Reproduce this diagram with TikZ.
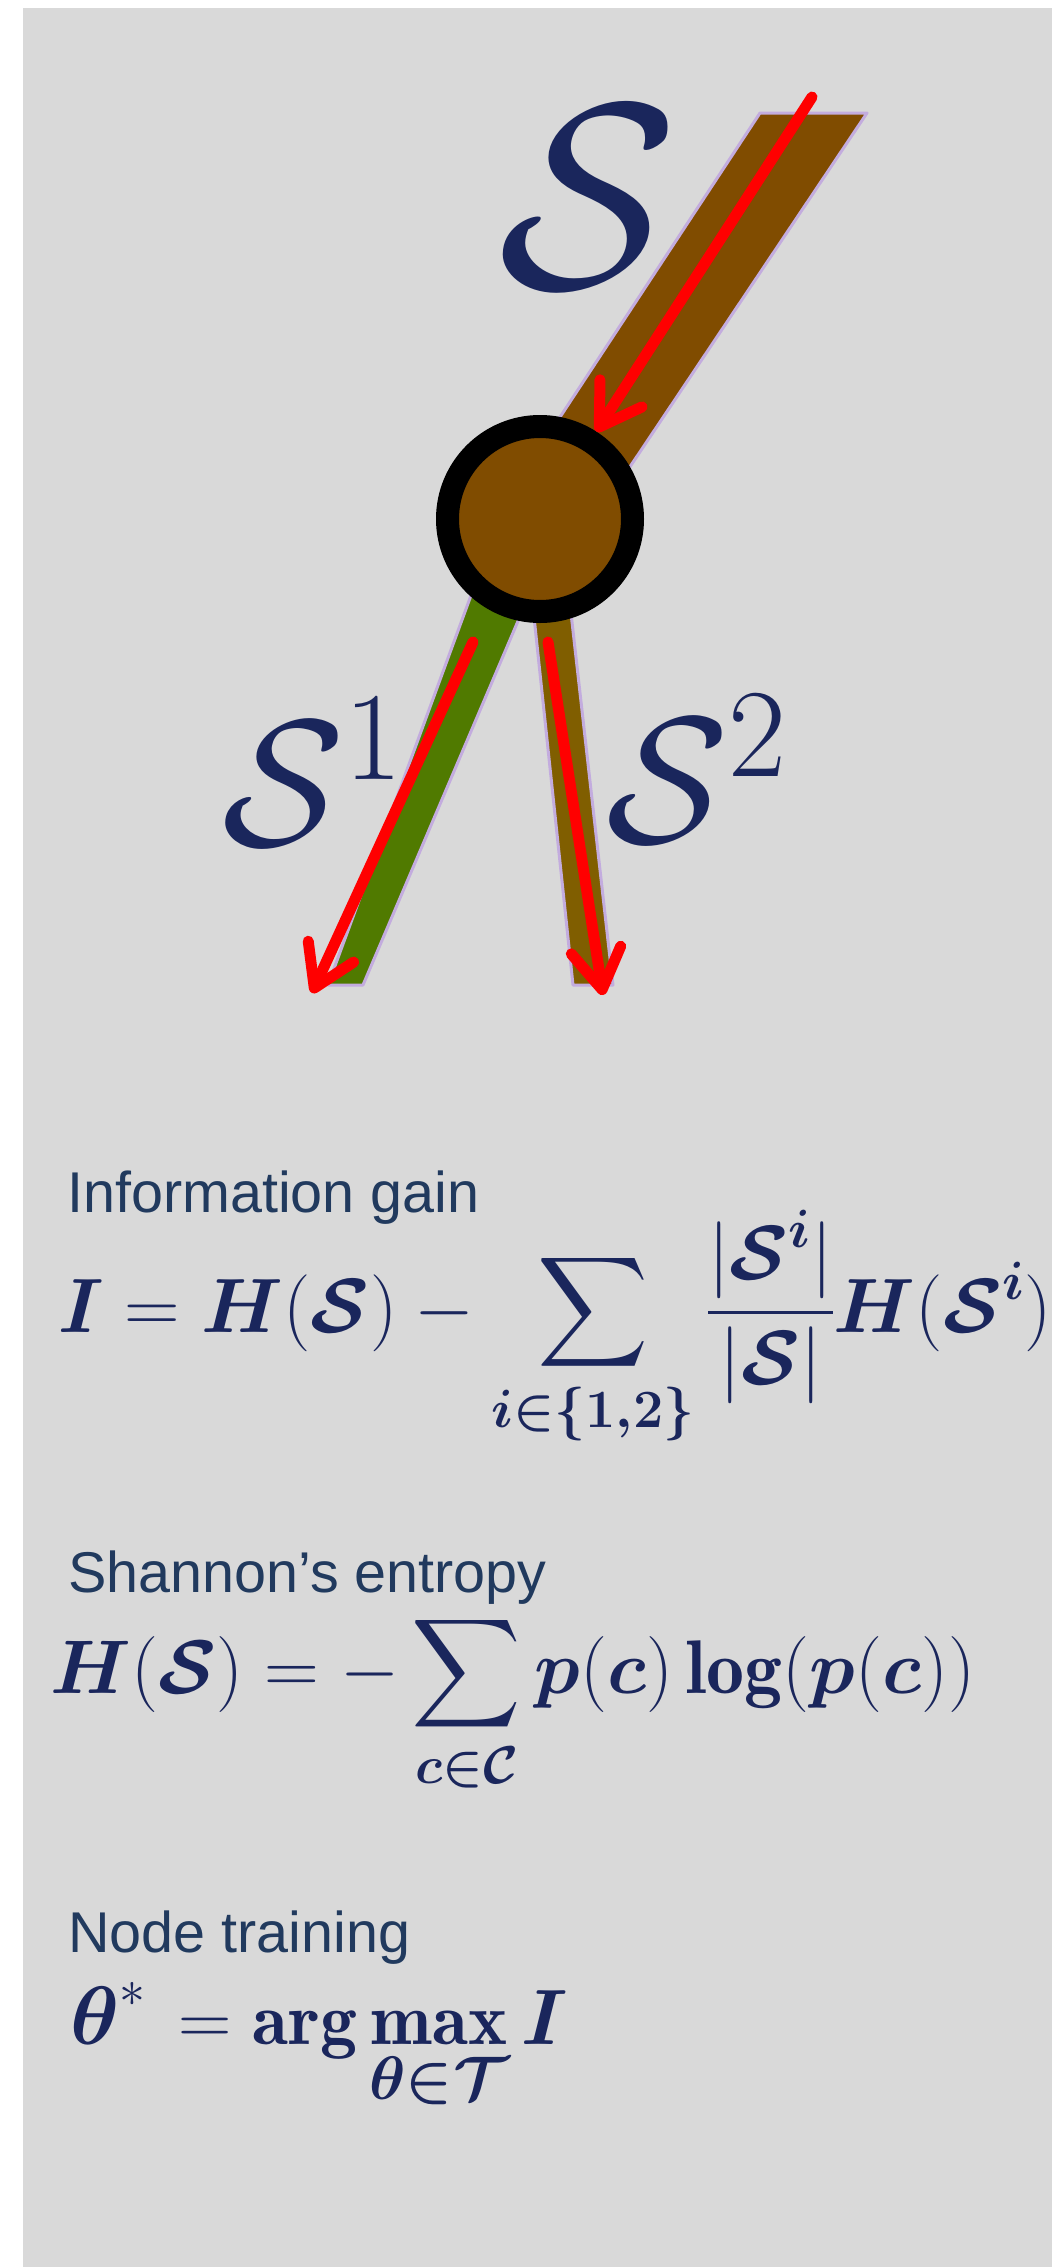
\RequirePackage{fix-cm}
\documentclass[tikz,border=0pt]{standalone}
\usepackage{amsmath}
\usepackage{bm}
\usepackage{graphicx}
\usepackage{fontspec}
\newfontfamily\arialfont{Liberation Sans}
\usetikzlibrary{arrows.meta}
\AtBeginDocument{%
  \DeclareFontShape{OMX}{cmex}{m}{n}{<->cmex10}{}%
  \DeclareFontShape{OMX}{cmex}{b}{n}{<->cmex10}{}}
\definecolor{bg}{RGB}{217,217,217}
\definecolor{trunk}{RGB}{128,76,0}
\definecolor{leftbr}{RGB}{80,122,0}
\definecolor{rightbr}{RGB}{128,94,0}
\definecolor{fringe}{RGB}{195,172,222}
\definecolor{mathblue}{RGB}{26,38,92}
\definecolor{headblue}{RGB}{33,58,94}
\begin{document}
\DeclareFontShape{OMX}{cmex}{m}{n}{<->cmex10}{}
\begin{tikzpicture}[x=1pt,y=-1pt,
  redarrow/.style={draw=red, line width=11pt, line cap=round,
    -{Straight Barb[length=40pt,width=50pt,round]}},
  band/.style={draw=fringe, line width=3pt, line join=round},
  lbl/.style={anchor=base west, inner sep=0pt, text=mathblue},
  head/.style={anchor=base west, inner sep=0pt, text=headblue,
    font=\arialfont\fontsize{57.5}{57.5}\selectfont},
  eqn/.style={anchor=base west, inner sep=0pt, text=mathblue}]
\useasboundingbox (0,0) rectangle (1052,2267);
\clip (0,0) rectangle (1052,2267);
\fill[bg] (23,8) rectangle (1052,2267);
% bands
\filldraw[band, fill=trunk] (760,113) -- (867,113) -- (595,519) -- (493,519) -- cycle;
\filldraw[band, fill=leftbr] (484,560) -- (544,560) -- (363,985) -- (328,985) -- cycle;
\filldraw[band, fill=rightbr] (528,560) -- (565,560) -- (613,985) -- (573,985) -- cycle;
% split node
\node[circle, draw=black, line width=23pt, fill=trunk, minimum size=185pt, inner sep=0pt] (root) at (540,519) {};
% arrows
\coordinate (a0) at (812,97);
\draw[redarrow] (a0) -- (root);
\coordinate (l0) at (473,642);
\coordinate (l1) at (312,993);
\draw[redarrow] (l0) -- (l1);
\coordinate (r0) at (548,642);
\coordinate (r1) at (603,995);
\draw[redarrow] (r0) -- (r1);
% labels
\node[lbl, font=\fontsize{264}{264}\selectfont] (lS) at (498,287) {$\mathcal{S}$};
\node[lbl, font=\fontsize{180}{180}\selectfont] (lS1) at (222,845) {$\mathcal{S}^1$};
\node[lbl, font=\fontsize{180}{180}\selectfont] (lS2) at (606,842) {$\mathcal{S}^2$};
% headings
\node[head] (h1) at (67,1212) {Information gain};
\node[head] (h2) at (68,1592) {Shannon’s entropy};
\node[head] (h3) at (68,1952) {Node training};
% equations
\node[eqn, font=\fontsize{77}{77}\selectfont] (e1) at (58,1332)
  {$\displaystyle \bm{I}=\bm{H}(\bm{\mathcal{S}})-\sum_{\bm{i\in\{1,2\}}}\frac{|\bm{\mathcal{S}}^{\bm{i}}|}{|\bm{\mathcal{S}}|}\bm{H}(\bm{\mathcal{S}}^{\bm{i}})$};
\node[eqn, font=\fontsize{76}{76}\selectfont] (e2) at (50,1693)
  {$\displaystyle \bm{H}(\bm{\mathcal{S}})=-\sum_{\bm{c\in\mathcal{C}}}\bm{p}(\bm{c})\mathop{\mathbf{log}}\nolimits(\bm{p}(\bm{c}))$};
\node[eqn, font=\fontsize{74}{74}\selectfont] (e3) at (70,2044)
  {$\displaystyle \scalebox{1.12}{$\bm{\theta}$}^{*}\,=\mathop{\mathbf{arg}}\nolimits\mathop{\mathbf{max}}\limits_{\scalebox{0.83}{$\bm{\theta}{\bm{\in}}\bm{\mathcal{T}}$}}\scalebox{1.06}{$\bm{I}$}$};
\end{tikzpicture}
\end{document}
